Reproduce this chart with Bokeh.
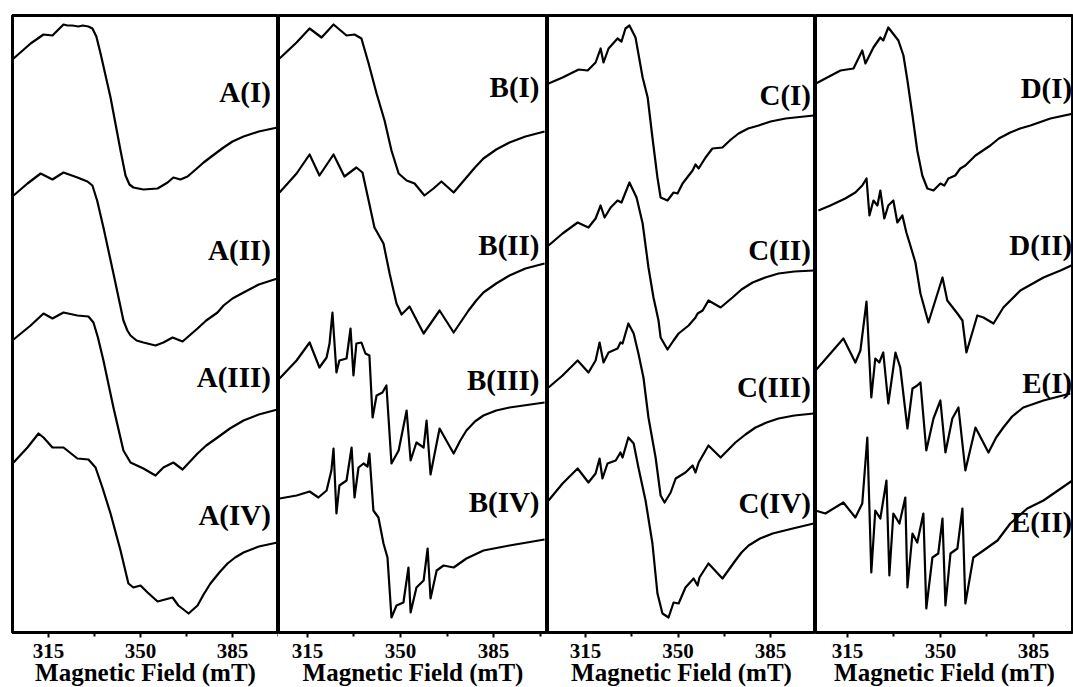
from bokeh.plotting import figure
from bokeh.models import Range1d, FixedTicker
from bokeh.layouts import row
from bokeh.embed import file_html
from bokeh.resources import INLINE
from bokeh.core.properties import value

FONT = "Liberation Serif"

# ---------------- data (field in mT, intensity in a.u., spectra stacked) ----------------
TICKS = [315, 350, 385]
MINOR_TICKS = [297.5, 332.5, 367.5, 402.5]
X_LABEL = "Magnetic Field (mT)"

A1_field = [301.7, 308.2, 313.1, 316.5, 318.4, 320.7, 322.2, 324.0, 326.4, 328.0, 330.2, 331.7, 333.2, 334.8, 338.6, 342.4, 344.3, 345.8, 347.3, 351.1, 356.5, 360.3, 362.5, 365.2, 367.9, 371.0, 374.0, 377.5, 381.6, 385.0, 389.2, 395.0, 402.1]
A1_int = [574, 589, 598, 597, 602, 608, 607, 607, 606, 607, 606, 604, 596, 579, 535, 482, 457, 448, 445, 443, 444, 450, 455, 453, 456, 463, 470, 477, 485, 491, 496, 501, 505]
A2_field = [301.7, 307.0, 312.0, 316.5, 320.7, 326.0, 329.8, 331.7, 333.5, 335.9, 339.7, 343.5, 345.0, 346.2, 348.5, 351.1, 355.7, 358.7, 362.2, 366.0, 371.7, 375.0, 379.3, 381.6, 385.0, 389.2, 395.0, 402.1]
A2_int = [437, 449, 459, 453, 460, 455, 451, 447, 432, 405, 359, 312, 302, 297, 292, 290, 287, 290, 295, 291, 304, 312, 320, 327, 334, 340, 348, 354]
A3_field = [301.7, 308.2, 313.1, 316.5, 320.7, 326.0, 330.2, 332.1, 333.8, 335.9, 339.7, 343.5, 346.2, 351.1, 355.7, 358.7, 362.5, 366.0, 371.7, 375.0, 379.3, 384.0, 389.2, 395.0, 402.1]
A3_int = [293, 307, 319, 314, 320, 317, 316, 310, 295, 272, 225, 182, 170, 164, 157, 165, 170, 163, 179, 187, 195, 204, 212, 218, 223]
A4_field = [301.7, 307.0, 311.2, 313.1, 316.5, 320.7, 326.0, 330.2, 332.9, 335.5, 338.6, 342.4, 345.4, 347.3, 350.0, 352.7, 356.5, 362.2, 364.4, 368.3, 371.7, 374.0, 376.6, 380.0, 383.1, 386.0, 389.2, 395.0, 402.1]
A4_int = [170, 185, 199, 195, 185, 185, 174, 173, 165, 145, 119, 82, 49, 45, 47, 40, 31, 35, 27, 19, 27, 38, 49, 60, 69, 75, 80, 86, 90]

B1_field = [304.5, 310.9, 315.8, 320.3, 324.8, 329.7, 332.7, 335.3, 338.0, 341.0, 344.0, 346.6, 349.3, 352.3, 355.3, 359.0, 362.4, 365.4, 370.0, 374.8, 378.0, 381.2, 386.0, 391.0, 397.0, 404.2]
B1_int = [574, 590, 604, 595, 608, 597, 598, 594, 569, 539, 512, 482, 459, 452, 449, 437, 444, 451, 440, 455, 465, 474, 483, 490, 496, 501]
B2_field = [304.5, 310.9, 315.8, 319.5, 324.8, 328.9, 333.4, 335.7, 338.0, 340.2, 343.6, 345.9, 348.5, 350.4, 353.4, 358.7, 364.7, 370.0, 375.6, 378.5, 381.2, 386.0, 391.0, 397.0, 404.2]
B2_int = [440, 459, 478, 457, 478, 456, 465, 460, 432, 405, 389, 359, 329, 318, 326, 299, 322, 300, 322, 332, 340, 349, 357, 364, 369]
B3_field = [304.5, 310.9, 315.8, 319.5, 322.2, 323.3, 324.4, 325.9, 327.0, 329.7, 331.2, 332.3, 333.4, 335.3, 336.8, 338.3, 339.5, 341.0, 343.2, 344.7, 346.6, 349.3, 352.3, 353.8, 356.0, 358.7, 359.8, 361.3, 364.7, 370.0, 372.5, 374.8, 378.0, 381.2, 386.0, 391.0, 404.2]
B3_int = [254, 272, 290, 265, 275, 289, 320, 260, 272, 274, 304, 257, 289, 290, 279, 277, 215, 237, 240, 247, 169, 182, 222, 172, 190, 185, 212, 158, 204, 179, 192, 202, 211, 217, 222, 225, 230]
B4_field = [304.5, 310.9, 315.8, 319.1, 322.2, 324.0, 324.8, 325.9, 327.0, 329.7, 331.6, 332.7, 334.2, 336.1, 337.6, 338.3, 339.8, 341.7, 343.6, 345.1, 346.6, 348.5, 351.1, 353.0, 353.8, 356.0, 358.7, 360.2, 361.3, 363.6, 366.2, 370.0, 374.8, 381.2, 391.0, 404.2]
B4_int = [134, 137, 141, 135, 142, 162, 184, 119, 147, 152, 185, 135, 165, 169, 166, 179, 122, 115, 89, 75, 15, 27, 30, 65, 20, 45, 52, 84, 34, 62, 67, 65, 74, 82, 87, 93]

C1_field = [301.0, 306.3, 312.4, 315.8, 318.8, 320.7, 321.8, 323.7, 327.1, 328.6, 330.1, 331.6, 333.9, 336.6, 338.5, 340.3, 342.2, 343.4, 346.0, 348.3, 349.8, 351.7, 355.5, 356.6, 357.8, 360.4, 363.0, 366.8, 370.0, 372.9, 376.5, 380.5, 385.0, 390.7, 401.3]
C1_int = [549, 555, 563, 562, 570, 584, 570, 584, 594, 591, 604, 607, 595, 555, 535, 495, 455, 435, 432, 440, 439, 449, 462, 468, 464, 475, 484, 485, 493, 499, 504, 507, 511, 514, 517]
C2_field = [301.0, 306.3, 312.0, 316.1, 318.8, 320.7, 322.2, 324.5, 327.1, 328.6, 330.1, 331.6, 334.3, 336.6, 338.8, 340.7, 342.6, 343.4, 346.0, 348.3, 350.2, 354.0, 356.6, 357.4, 359.3, 361.5, 366.1, 370.6, 374.0, 378.2, 383.0, 388.0, 394.0, 401.3]
C2_int = [387, 399, 410, 405, 414, 427, 415, 425, 432, 430, 440, 450, 435, 409, 365, 335, 312, 295, 283, 292, 299, 307, 315, 319, 322, 332, 325, 335, 343, 350, 355, 359, 361, 362]
C3_field = [301.0, 306.3, 312.0, 316.1, 318.8, 320.3, 321.8, 323.7, 327.1, 328.2, 329.0, 331.2, 333.2, 335.0, 336.9, 338.8, 341.5, 343.4, 344.9, 347.2, 349.1, 352.8, 355.5, 356.6, 357.8, 361.5, 366.1, 371.7, 375.5, 379.3, 383.5, 388.0, 394.0, 401.3]
C3_int = [245, 257, 272, 260, 272, 290, 270, 280, 284, 290, 289, 309, 299, 279, 255, 215, 175, 137, 130, 140, 154, 160, 167, 160, 170, 187, 175, 190, 198, 205, 210, 214, 217, 219]
C4_field = [301.0, 306.3, 312.0, 316.1, 318.8, 320.3, 321.4, 323.3, 326.4, 328.2, 329.0, 331.2, 333.2, 335.0, 337.7, 340.3, 342.2, 344.1, 346.4, 348.3, 350.2, 352.8, 355.9, 357.4, 358.1, 361.5, 366.8, 371.7, 374.0, 376.7, 381.0, 385.8, 393.4, 401.3]
C4_int = [132, 149, 164, 150, 159, 174, 154, 169, 172, 180, 175, 195, 189, 165, 132, 89, 39, 19, 15, 30, 29, 45, 54, 47, 55, 69, 54, 72, 80, 87, 94, 99, 104, 109]

D1_field = [301.8, 312.4, 317.3, 320.6, 321.8, 324.8, 327.4, 328.5, 330.4, 334.2, 336.1, 337.6, 339.5, 341.3, 343.2, 345.1, 347.4, 350.0, 351.5, 353.0, 355.6, 357.5, 359.4, 363.2, 368.8, 372.0, 376.3, 380.0, 383.9, 391.4, 400.1]
D1_int = [547, 562, 564, 582, 569, 585, 595, 592, 605, 592, 577, 552, 517, 482, 457, 444, 442, 449, 447, 454, 457, 464, 467, 477, 487, 494, 500, 504, 507, 514, 519]
D2_field = [304.1, 308.6, 314.2, 318.0, 320.6, 322.2, 323.3, 324.8, 326.3, 327.4, 328.9, 330.4, 332.3, 333.8, 335.7, 337.2, 338.7, 340.6, 341.7, 342.5, 345.5, 350.8, 352.6, 356.4, 358.3, 359.8, 363.9, 366.2, 370.0, 373.7, 380.1, 388.8, 395.2, 400.1]
D2_int = [422, 427, 434, 440, 447, 454, 417, 432, 427, 442, 414, 427, 432, 410, 417, 400, 387, 370, 352, 339, 310, 355, 332, 319, 312, 280, 317, 315, 309, 325, 342, 355, 362, 368]
E1_field = [303.0, 308.6, 313.5, 318.0, 319.9, 322.2, 324.0, 325.5, 327.0, 328.5, 330.4, 333.1, 334.9, 337.6, 339.5, 341.3, 342.5, 344.7, 347.4, 350.0, 351.9, 354.5, 356.8, 359.4, 363.2, 368.1, 371.0, 373.7, 377.0, 381.2, 388.8, 398.9]
E1_int = [262, 279, 294, 270, 282, 331, 235, 274, 270, 280, 229, 280, 265, 204, 244, 247, 250, 182, 214, 232, 180, 214, 225, 162, 205, 180, 195, 205, 216, 225, 232, 239]
E2_field = [303.0, 306.7, 313.5, 318.0, 320.6, 322.5, 324.0, 325.5, 327.4, 329.7, 330.8, 332.3, 334.6, 336.8, 337.6, 339.5, 341.3, 343.6, 344.7, 347.0, 349.2, 350.8, 351.9, 353.8, 356.4, 358.3, 359.4, 362.4, 366.2, 371.5, 376.3, 382.7, 388.8, 399.7]
E2_int = [122, 119, 130, 115, 129, 195, 60, 122, 114, 152, 57, 119, 109, 135, 45, 99, 90, 119, 24, 75, 79, 114, 27, 79, 84, 124, 29, 75, 82, 92, 109, 124, 132, 152]

A_labels = ["A(I)", "A(II)", "A(III)", "A(IV)"]
A_label_int = [541, 383, 256, 118]
B_labels = ["B(I)", "B(II)", "B(III)", "B(IV)"]
B_label_int = [546, 388, 253, 131]
C_labels = ["C(I)", "C(II)", "C(III)", "C(IV)"]
C_label_int = [538, 383, 246, 130]
D_labels = ["D(I)", "D(II)", "E(I)", "E(II)"]
D_label_int = [545, 388, 250, 111]

# ---------------- layout ----------------
panels = [
    dict(xr=(301.3, 402.5), fw=266, left=12,
         curves=[(A1_field, A1_int), (A2_field, A2_int), (A3_field, A3_int), (A4_field, A4_int)],
         labels=A_labels, ly=A_label_int, lx=[399.6] * 4),
    dict(xr=(304.1, 405.3), fw=269, left=0,
         curves=[(B1_field, B1_int), (B2_field, B2_int), (B3_field, B3_int), (B4_field, B4_int)],
         labels=B_labels, ly=B_label_int, lx=[402.3] * 4),
    dict(xr=(300.6, 402.0), fw=268, left=0,
         curves=[(C1_field, C1_int), (C2_field, C2_int), (C3_field, C3_int), (C4_field, C4_int)],
         labels=C_labels, ly=C_label_int, lx=[400.3] * 4),
    dict(xr=(303.0, 400.1), fw=258, left=0,
         curves=[(D1_field, D1_int), (D2_field, D2_int), (E1_field, E1_int), (E2_field, E2_int)],
         labels=D_labels, ly=D_label_int, lx=[399.6] * 4),
]

figs = []
for pn in panels:
    p = figure(frame_width=pn["fw"], frame_height=617,
               x_range=Range1d(*pn["xr"]), y_range=Range1d(0, 617),
               output_backend="svg", toolbar_location=None,
               min_border_left=pn["left"], min_border_right=0,
               min_border_top=15, min_border_bottom=55)
    p.yaxis.visible = False
    p.xgrid.visible = False
    p.ygrid.visible = False
    p.outline_line_color = "black"
    p.outline_line_width = 3
    p.outline_line_alpha = 1.0
    p.background_fill_color = "white"
    p.border_fill_color = "white"
    ax = p.xaxis[0]
    ax.ticker = FixedTicker(ticks=TICKS, minor_ticks=MINOR_TICKS)
    ax.axis_label = X_LABEL
    ax.axis_line_color = None
    ax.major_tick_in = 0
    ax.major_tick_out = 5
    ax.minor_tick_in = 0
    ax.minor_tick_out = 4
    ax.major_tick_line_width = 2
    ax.minor_tick_line_width = 2
    ax.major_tick_line_color = "black"
    ax.minor_tick_line_color = "black"
    ax.major_label_standoff = 6
    ax.axis_label_standoff = -2
    ax.major_label_text_font = FONT
    ax.major_label_text_font_style = "bold"
    ax.major_label_text_font_size = "21px"
    ax.major_label_text_color = "black"
    ax.axis_label_text_font = FONT
    ax.axis_label_text_font_style = "bold"
    ax.axis_label_text_font_size = "25px"
    ax.axis_label_text_color = "black"
    for fx, fy in pn["curves"]:
        p.line(fx, fy, line_color="black", line_width=2.2, line_join="round")
    p.text(x=pn["lx"], y=pn["ly"], text=pn["labels"], text_font=value(FONT),
           text_font_style="bold", text_font_size="29px", text_color="black",
           text_align="right", text_baseline="middle")
    figs.append(p)

layout = row(*figs, spacing=0)
open("out.html", "w").write(file_html(layout, INLINE))
